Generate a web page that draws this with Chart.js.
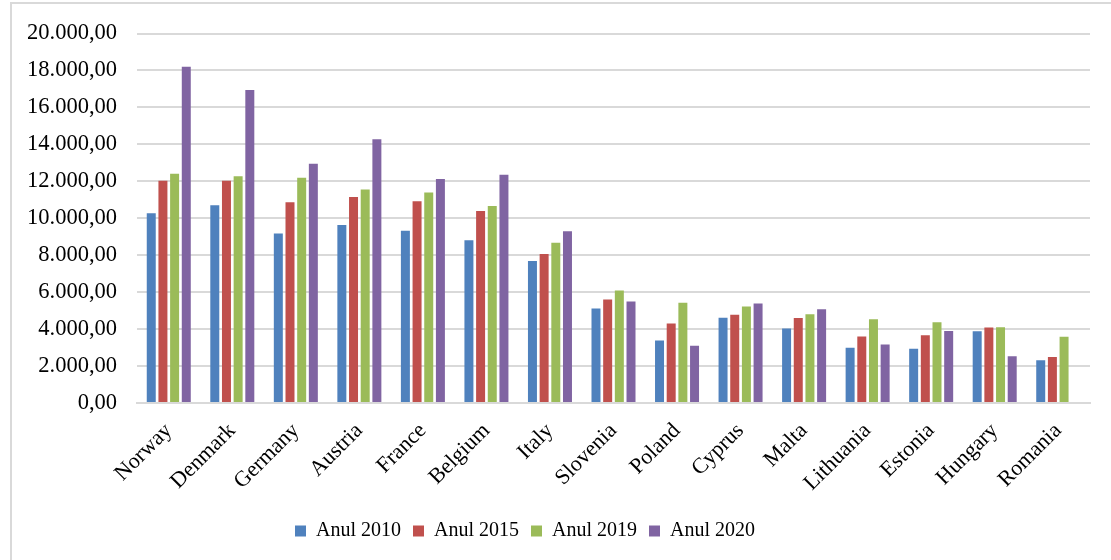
<!DOCTYPE html>
<html>
<head>
<meta charset="utf-8">
<script src="https://cdn.jsdelivr.net/npm/chart.js@4"></script>
<style>
  html, body { margin: 0; padding: 0; background: #fff; }
  #wrap { width: 1111px; height: 560px; position: relative; }
</style>
</head>
<body>
<div id="wrap"><canvas id="c" width="1111" height="560"></canvas></div>
<script>
const categories = ["Norway","Denmark","Germany","Austria","France","Belgium","Italy","Slovenia","Poland","Cyprus","Malta","Lithuania","Estonia","Hungary","Romania"];
const seriesNames = ["Anul 2010","Anul 2015","Anul 2019","Anul 2020"];
const values2010 = [10270,10700,9170,9640,9330,8810,7680,5120,3380,4620,4030,2990,2940,3890,2310];
const values2015 = [12030,12030,10860,11150,10920,10390,8060,5600,4300,4780,4600,3600,3670,4080,2490];
const values2019 = [12410,12270,12190,11550,11390,10660,8670,6090,5420,5230,4800,4530,4370,4100,3580];
const values2020 = [18200,16940,12950,14280,12120,12360,9290,5500,3100,5390,5070,3170,3900,2530,null];
const yTickLabels = ["0,00","2.000,00","4.000,00","6.000,00","8.000,00","10.000,00","12.000,00","14.000,00","16.000,00","18.000,00","20.000,00"];
const colors = ["#4F81BD","#C0504D","#9BBB59","#8064A2"];

const allValues = [values2010, values2015, values2019, values2020];
const serif = '"Liberation Serif", "Times New Roman", serif';

const frame = {
  id: 'frame',
  beforeDraw(chart) {
    const ctx = chart.ctx;
    ctx.save();
    ctx.strokeStyle = '#d9d9d9';
    ctx.lineWidth = 2;
    ctx.beginPath();
    ctx.moveTo(11, 560);
    ctx.lineTo(11, 3);
    ctx.lineTo(1111, 3);
    ctx.stroke();
    ctx.restore();
  }
};

new Chart(document.getElementById('c'), {
  type: 'bar',
  data: {
    labels: categories,
    datasets: seriesNames.map((n, i) => ({
      label: n,
      data: allValues[i],
      backgroundColor: colors[i],
      borderWidth: 0,
      barPercentage: 0.77,
      categoryPercentage: 0.735
    }))
  },
  plugins: [frame],
  options: {
    responsive: false,
    animation: false,
    layout: { padding: { top: 30, right: 21, bottom: 9, left: 0 } },
    plugins: {
      tooltip: { enabled: false },
      legend: {
        position: 'bottom',
        labels: {
          boxWidth: 11,
          boxHeight: 11,
          padding: 12,
          color: '#000',
          font: { family: serif, size: 20 },
          generateLabels(chart) {
            const items = Chart.defaults.plugins.legend.labels.generateLabels(chart);
            items[items.length - 1].text += '        ';
            return items;
          }
        }
      }
    },
    scales: {
      y: {
        min: 0, max: 20000,
        afterFit(scale) { scale.width = 137; },
        ticks: {
          stepSize: 2000,
          padding: 20,
          color: '#000',
          font: { family: serif, size: 22.5 },
          callback: (v, i) => yTickLabels[i]
        },
        grid: { color: '#d9d9d9', lineWidth: 2, drawTicks: false },
        border: { display: false }
      },
      x: {
        afterFit(scale) { scale.height = 106; },
        ticks: {
          minRotation: 45, maxRotation: 45,
          padding: 15,
          color: '#000',
          font: { family: serif, size: 22 }
        },
        grid: { display: false, drawTicks: false },
        border: { display: true, color: '#d9d9d9', width: 2 }
      }
    }
  }
});
</script>
</body>
</html>
